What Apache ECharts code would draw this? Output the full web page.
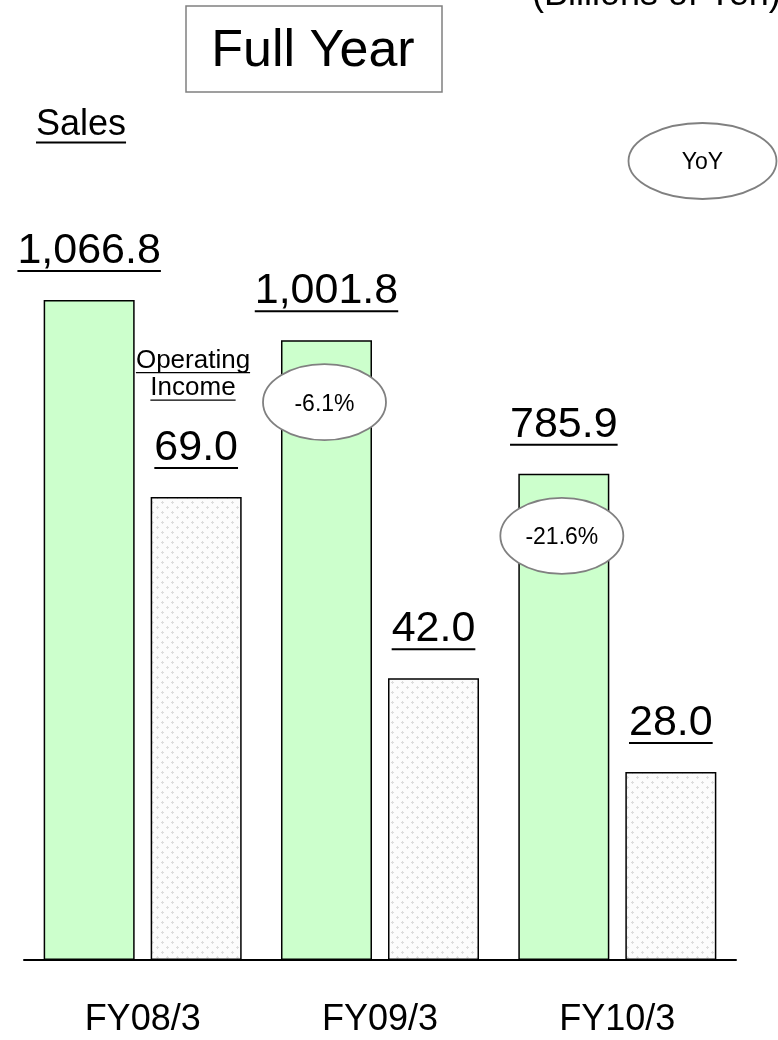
<!DOCTYPE html>
<html>
<head>
<meta charset="utf-8">
<script src="https://cdn.jsdelivr.net/npm/echarts@6/dist/echarts.min.js"></script>
<style>
  html, body { margin: 0; padding: 0; background: #fff; }
  #chart { width: 778px; height: 1040px; }
</style>
</head>
<body>
<div id="chart"></div>
<script>
// Fiscal years and results (billions of yen)
const categories = ['FY08/3', 'FY09/3', 'FY10/3'];
const salesValues = [1066.8, 1001.8, 785.9];
const incomeValues = [69.0, 42.0, 28.0];
// Year-on-year change of sales, in percent
const yoyValues = [null, -6.1, -21.6];

const FONT = '"Liberation Sans", Arial, sans-serif';
const BAR_W = 91;
const BAR_GAP = 16;
const VALUE_SIZE = 43;

const measureCtx = document.createElement('canvas').getContext('2d');
function textWidth(text, size) {
  measureCtx.font = size + 'px ' + FONT;
  return measureCtx.measureText(text).width;
}

// light dotted fill used for the operating income bars
function makeDotPattern() {
  const c = document.createElement('canvas');
  c.width = 10; c.height = 10;
  const g = c.getContext('2d');
  g.fillStyle = '#fcfcfc';
  g.fillRect(0, 0, 10, 10);
  g.fillStyle = '#dcdcdc';
  [[2, 2], [7, 7]].forEach(([x, y]) => {
    g.fillRect(x, y - 1, 1, 3);
    g.fillRect(x - 1, y, 3, 1);
  });
  return c;
}

function fmtValue(v) {
  return v.toLocaleString('en-US', { minimumFractionDigits: 1, maximumFractionDigits: 1 });
}

// each value is shown above its bar, underlined
function underlinedItems(values) {
  return values.map(v => {
    const txt = fmtValue(v);
    return {
      value: v,
      label: {
        show: true,
        position: 'top',
        distance: 28,
        formatter: '{v|' + txt + '}\n{u|}',
        rich: {
          v: { fontSize: VALUE_SIZE, fontFamily: FONT, color: '#000', lineHeight: 38, align: 'center' },
          u: { width: textWidth(txt, VALUE_SIZE), height: 2, lineHeight: 2, backgroundColor: '#000', align: 'center' }
        }
      }
    };
  });
}

const chart = echarts.init(document.getElementById('chart'), null, { renderer: 'canvas' });

chart.setOption({
  animation: false,
  backgroundColor: '#fff',
  grid: { left: 24, right: 42, top: 300, bottom: 80 },
  xAxis: {
    type: 'category',
    data: categories,
    axisLine: { show: true, lineStyle: { color: '#000', width: 2 } },
    axisTick: { show: false },
    axisLabel: { fontSize: 36, fontFamily: FONT, color: '#000', margin: 42 }
  },
  yAxis: [
    { type: 'value', min: 0, max: 1066.8, show: false, splitLine: { show: false } },
    { type: 'value', min: 0, max: 98.36, show: false, splitLine: { show: false } }
  ],
  series: [
    {
      name: 'Sales',
      type: 'bar',
      yAxisIndex: 0,
      data: underlinedItems(salesValues),
      barWidth: BAR_W,
      barGap: (BAR_GAP / BAR_W * 100).toFixed(1) + '%',
      itemStyle: { color: '#ccffcc', borderColor: '#000', borderWidth: 1.5 }
    },
    {
      name: 'Operating Income',
      type: 'bar',
      yAxisIndex: 1,
      data: underlinedItems(incomeValues),
      barWidth: BAR_W,
      itemStyle: {
        color: { image: makeDotPattern(), repeat: 'repeat' },
        borderColor: '#000',
        borderWidth: 1.5
      }
    }
  ]
});

// text with an underline drawn just below its baseline
function underlinedText(text, x, baseline, size, align, lineW, gap) {
  const w = textWidth(text, size);
  const left = align === 'center' ? x - w / 2 : x;
  return [
    {
      type: 'text',
      z: 10,
      style: {
        text: text, x: x, y: baseline - 0.3465 * size,
        fontSize: size, fontFamily: FONT, fill: '#000',
        align: align, verticalAlign: 'middle'
      }
    },
    {
      type: 'rect',
      z: 10,
      shape: { x: left, y: baseline + gap, width: w, height: lineW },
      style: { fill: '#000' }
    }
  ];
}

function ellipseWithText(cx, cy, rx, ry, text) {
  return [
    {
      type: 'ellipse',
      z: 20,
      shape: { cx: cx, cy: cy, rx: rx, ry: ry },
      style: { fill: '#fff', stroke: '#808080', lineWidth: 1.8 }
    },
    {
      type: 'text',
      z: 21,
      style: {
        text: text, x: cx, y: cy + 2,
        fontSize: 23, fontFamily: FONT, fill: '#000',
        align: 'center', verticalAlign: 'middle'
      }
    }
  ];
}

const graphics = [
  // title box
  {
    type: 'rect',
    shape: { x: 186, y: 6, width: 256, height: 86 },
    style: { fill: '#fff', stroke: '#808080', lineWidth: 1.5 }
  },
  {
    type: 'text',
    style: {
      text: 'Full Year', x: 313, y: 69.5 - 0.3465 * 52,
      fontSize: 52, fontFamily: FONT, fill: '#000',
      align: 'center', verticalAlign: 'middle'
    }
  },
  {
    type: 'text',
    style: {
      text: '(Billions of Yen)', x: 532, y: 7.5 - 0.3465 * 36,
      fontSize: 36, fontFamily: FONT, fill: '#000',
      align: 'left', verticalAlign: 'middle'
    }
  }
]
  .concat(underlinedText('Sales', 36, 138, 36, 'left', 2, 3.5))
  .concat(underlinedText('Operating', 193, 369.5, 26, 'center', 1.2, 2.5))
  .concat(underlinedText('Income', 193, 396.5, 26, 'center', 1.2, 3))
  .concat(ellipseWithText(702.5, 161, 74, 38, 'YoY'));

// YoY bubbles sit on the sales bars, a little below their tops
const salesOffset = -(BAR_W + BAR_GAP) / 2;
yoyValues.forEach((v, i) => {
  if (v == null) return;
  const pt = chart.convertToPixel({ seriesIndex: 0 }, [i, salesValues[i]]);
  const txt = v.toFixed(1) + '%';
  graphics.push.apply(graphics, ellipseWithText(pt[0] + salesOffset - 2, pt[1] + 62, 61.5, 38, txt));
});

chart.setOption({ graphic: graphics });
</script>
</body>
</html>
